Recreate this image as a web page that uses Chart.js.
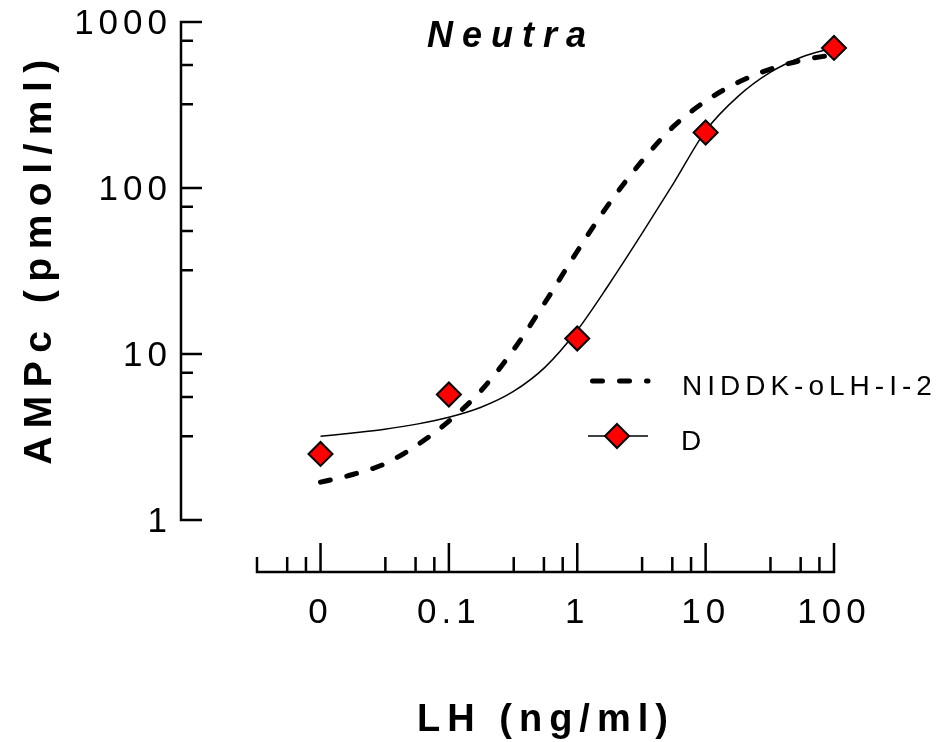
<!DOCTYPE html>
<html>
<head>
<meta charset="utf-8">
<script src="https://cdn.jsdelivr.net/npm/chart.js@4.4.1/dist/chart.umd.min.js"></script>
<style>
  html, body { margin: 0; padding: 0; background: #fff; }
</style>
</head>
<body>
<canvas id="chart" width="937" height="742"></canvas>
<script>
// --- data --------------------------------------------------------------------
// "0" dose is plotted one decade below 0.1
const doseX = [0.01, 0.1, 1, 10, 100];
const doseLabels = ["0", "0.1", "1", "10", "100"];
const dValues = [2.5, 5.7, 12.4, 216, 698];

// fitted curves, read every quarter decade along the log x axis
const fitX = [0.01, 0.0178, 0.0316, 0.0562, 0.1, 0.178, 0.316, 0.562, 1,
              1.78, 3.16, 5.62, 10, 17.8, 31.6, 56.2, 100];
const niddkFit = [1.69, 1.88, 2.18, 2.82, 3.94, 6.01, 10.5, 20.5, 41.6,
                  81, 144, 235, 334, 432, 519, 588, 636];
const dFit = [3.19, 3.34, 3.52, 3.78, 4.16, 4.78, 5.93, 8.34, 13.9,
              26.5, 52.5, 106.6, 221, 355, 495, 615, 701];

const yMajor = [1, 10, 100, 1000];
const yLabels = ["1", "10", "100", "1000"];
const minorSteps = [3.2, 5.5, 7.7];   // minor tick multipliers inside each decade
const xMin = 0.0032;

const FONT = '"Liberation Sans", Arial, sans-serif';

function minorTicks(lo, hi, from) {
  const out = [];
  for (let d = lo; d < hi; d *= 10) {
    for (const m of minorSteps) {
      const v = d * m;
      if (v >= from) out.push(v);
    }
  }
  return out;
}

// axes are detached from the plot area, so they are drawn here by hand
const detachedAxes = {
  id: "detachedAxes",
  afterDraw(chart) {
    const { ctx, chartArea, scales: { x, y } } = chart;
    const axisX = chartArea.left - 76;
    const axisY = chartArea.bottom + 52;

    ctx.save();
    ctx.strokeStyle = "#000";
    ctx.fillStyle = "#000";
    ctx.lineWidth = 2.5;

    // y axis
    const yTop = y.getPixelForValue(1000), yBot = y.getPixelForValue(1);
    ctx.beginPath();
    ctx.moveTo(axisX, yTop - 1.25); ctx.lineTo(axisX, yBot + 1.25);
    for (const v of yMajor) {
      const py = y.getPixelForValue(v);
      ctx.moveTo(axisX, py); ctx.lineTo(axisX + 21, py);
    }
    for (const v of minorTicks(1, 1000, 1)) {
      const py = y.getPixelForValue(v);
      ctx.moveTo(axisX, py); ctx.lineTo(axisX + 12, py);
    }
    ctx.stroke();

    // x axis
    const xl = x.getPixelForValue(xMin), xr = x.getPixelForValue(100);
    ctx.beginPath();
    ctx.moveTo(xl - 1.25, axisY); ctx.lineTo(xr + 1.25, axisY);
    for (const v of doseX) {
      const px = x.getPixelForValue(v);
      ctx.moveTo(px, axisY); ctx.lineTo(px, axisY - 29);
    }
    for (const v of minorTicks(0.001, 100, xMin)) {
      const px = x.getPixelForValue(v);
      ctx.moveTo(px, axisY); ctx.lineTo(px, axisY - 15);
    }
    ctx.stroke();

    // tick labels
    ctx.font = "35px " + FONT;
    ctx.letterSpacing = "5px";
    ctx.textBaseline = "alphabetic";
    ctx.textAlign = "right";
    yMajor.forEach((v, i) => {
      ctx.fillText(yLabels[i], axisX - 9, y.getPixelForValue(v) + 12);
    });
    ctx.textAlign = "center";
    doseX.forEach((v, i) => {
      ctx.fillText(doseLabels[i], x.getPixelForValue(v), axisY + 51);
    });

    // titles
    ctx.font = "italic bold 36px " + FONT;
    ctx.letterSpacing = "9px";
    ctx.fillText("Neutra", 511, 47);

    ctx.font = "bold 38px " + FONT;
    ctx.letterSpacing = "7px";
    ctx.fillText("LH (ng/ml)", 546, 731);

    ctx.save();
    ctx.translate(51, 258);
    ctx.rotate(-Math.PI / 2);
    ctx.font = "bold 39px " + FONT;
    ctx.letterSpacing = "8.5px";
    ctx.fillText("AMPc (pmol/ml)", 0, 0);
    ctx.restore();

    // legend
    const ds = chart.data.datasets;
    const nid = ds[2], dots = ds[0];
    ctx.letterSpacing = "5px";
    ctx.font = "28px " + FONT;
    ctx.textAlign = "left";

    ctx.save();
    ctx.lineWidth = nid.borderWidth;
    ctx.setLineDash(nid.borderDash);
    ctx.lineCap = "round";
    ctx.beginPath();
    ctx.moveTo(592.5, 381); ctx.lineTo(648, 381);
    ctx.stroke();
    ctx.restore();
    ctx.fillText(nid.label, 682, 395);

    ctx.lineWidth = 1.5;
    ctx.beginPath();
    ctx.moveTo(588, 436); ctx.lineTo(648, 436);
    ctx.stroke();
    ctx.fillStyle = dots.pointBackgroundColor;
    ctx.strokeStyle = dots.pointBorderColor;
    ctx.lineWidth = dots.pointBorderWidth;
    ctx.beginPath();
    const r = dots.pointRadius;
    ctx.moveTo(617, 436 - r); ctx.lineTo(617 + r, 436); ctx.lineTo(617, 436 + r); ctx.lineTo(617 - r, 436);
    ctx.closePath();
    ctx.fill(); ctx.stroke();
    ctx.fillStyle = "#000";
    ctx.fillText(dots.label, 681, 450);

    ctx.restore();
  }
};

new Chart(document.getElementById("chart"), {
  type: "line",
  data: {
    datasets: [
      {
        label: "D",
        data: doseX.map((v, i) => ({ x: v, y: dValues[i] })),
        showLine: false,
        pointStyle: "rectRot",
        pointRadius: 12,
        pointBackgroundColor: "#ff0000",
        pointBorderColor: "#000",
        pointBorderWidth: 2,
        clip: false,
        order: 0,
      },
      {
        label: "D fit",
        data: fitX.map((v, i) => ({ x: v, y: dFit[i] })),
        borderColor: "#000",
        borderWidth: 1.5,
        pointRadius: 0,
        cubicInterpolationMode: "monotone",
        clip: false,
        order: 1,
      },
      {
        label: "NIDDK-oLH-I-2",
        data: fitX.map((v, i) => ({ x: v, y: niddkFit[i] })),
        borderColor: "#000",
        borderWidth: 5,
        borderDash: [10, 17],
        borderCapStyle: "round",
        pointRadius: 0,
        cubicInterpolationMode: "monotone",
        clip: false,
        order: 2,
      },
    ],
  },
  options: {
    responsive: false,
    animation: false,
    devicePixelRatio: 1,
    layout: { padding: { left: 257, right: 103, top: 22, bottom: 222 } },
    scales: {
      x: { type: "logarithmic", min: xMin, max: 100, display: false },
      y: { type: "logarithmic", min: 1, max: 1000, display: false },
    },
    plugins: {
      legend: { display: false },
      tooltip: { enabled: false },
    },
  },
  plugins: [detachedAxes],
});
</script>
</body>
</html>
